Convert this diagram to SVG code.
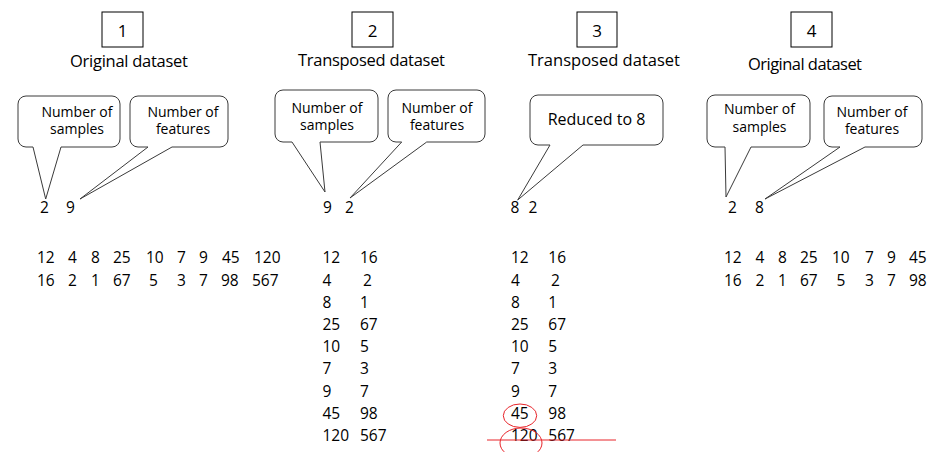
<svg xmlns="http://www.w3.org/2000/svg" width="932" height="452" viewBox="0 0 932 452">
<style>
.box{fill:#fff;stroke:#000;stroke-width:1}
.bub{fill:#fff;stroke:#3a3a3a;stroke-width:1}
text{font-family:"Open Sans","Liberation Sans",sans-serif;fill:#000}
.num{font-size:17px;text-anchor:middle}
.ttl{font-size:16.5px;text-anchor:middle}
.bt{font-size:14px;text-anchor:middle}
.d{font-size:15.5px}
.red{fill:none;stroke:#e8242a;stroke-width:1}
</style>
<rect width="932" height="452" fill="#fff"/>

<g id="panel1">
  <g id="box1"><rect class="box" x="102" y="12" width="41" height="35"/><text class="num" x="122.5" y="36.5">1</text></g>
  <text class="ttl" x="129" y="66.5" textLength="118">Original dataset</text>
  <g id="bubble1a"><path class="bub" d="M26,96 H112 A8,8 0 0 1 120,104 V139 A8,8 0 0 1 112,147 H61 L45.7,199 L33,147 H26 A8,8 0 0 1 18,139 V104 A8,8 0 0 1 26,96 Z"/>
    <text class="bt" x="77" y="116.5">Number of</text><text class="bt" x="77" y="134">samples</text></g>
  <g id="bubble1b"><path class="bub" d="M138,96 H220 A8,8 0 0 1 228,104 V139 A8,8 0 0 1 220,147 H172 L80,199 L148,147 H138 A8,8 0 0 1 130,139 V104 A8,8 0 0 1 138,96 Z"/>
    <text class="bt" x="183" y="116.5">Number of</text><text class="bt" x="183" y="134">features</text></g>
  <g id="shape1" class="d"><text x="40" y="213">2</text><text x="66" y="213">9</text></g>
  <g id="data1" class="d">
    <text x="37" y="263">12</text><text x="68" y="263">4</text><text x="91" y="263">8</text><text x="113" y="263">25</text><text x="146" y="263">10</text><text x="177" y="263">7</text><text x="199" y="263">9</text><text x="222" y="263">45</text><text x="254" y="263">120</text>
    <text x="37" y="285.5">16</text><text x="68" y="285.5">2</text><text x="91" y="285.5">1</text><text x="113" y="285.5">67</text><text x="149" y="285.5">5</text><text x="177" y="285.5">3</text><text x="199" y="285.5">7</text><text x="221" y="285.5">98</text><text x="252" y="285.5">567</text>
  </g>
</g>

<g id="panel2">
  <g id="box2"><rect class="box" x="352" y="12" width="41" height="35"/><text class="num" x="372.5" y="36.5">2</text></g>
  <text class="ttl" x="371.5" y="66" textLength="147">Transposed dataset</text>
  <g id="bubble2a"><path class="bub" d="M283,90 H370 A8,8 0 0 1 378,98 V134 A8,8 0 0 1 370,142 H320 L325,192 L292,142 H283 A8,8 0 0 1 275,134 V98 A8,8 0 0 1 283,90 Z"/>
    <text class="bt" x="327" y="112.5">Number of</text><text class="bt" x="327" y="130">samples</text></g>
  <g id="bubble2b"><path class="bub" d="M396,90 H477 A8,8 0 0 1 485,98 V134 A8,8 0 0 1 477,142 H426.7 L350,198 L401.7,142 H396 A8,8 0 0 1 388,134 V98 A8,8 0 0 1 396,90 Z"/>
    <text class="bt" x="437" y="112.5">Number of</text><text class="bt" x="437" y="130">features</text></g>
  <g id="shape2" class="d"><text x="323" y="213">9</text><text x="345" y="213">2</text></g>
  <g id="data2" class="d">
    <text x="322.5" y="263.3">12</text><text x="360" y="263.3">16</text>
    <text x="322.5" y="285.5">4</text><text x="363" y="285.5">2</text>
    <text x="322.5" y="307.7">8</text><text x="360" y="307.7">1</text>
    <text x="322.5" y="330">25</text><text x="360" y="330">67</text>
    <text x="322.5" y="352.2">10</text><text x="360" y="352.2">5</text>
    <text x="322.5" y="374.4">7</text><text x="360" y="374.4">3</text>
    <text x="322.5" y="396.6">9</text><text x="360" y="396.6">7</text>
    <text x="322.5" y="418.8">45</text><text x="360" y="418.8">98</text>
    <text x="322.5" y="441">120</text><text x="360" y="441">567</text>
  </g>
</g>

<g id="panel3">
  <g id="box3"><rect class="box" x="577" y="12" width="40" height="35"/><text class="num" x="597" y="36.5">3</text></g>
  <text class="ttl" x="604" y="66" textLength="152">Transposed dataset</text>
  <g id="bubble3"><path class="bub" d="M538,95 H655 A8,8 0 0 1 663,103 V137 A8,8 0 0 1 655,145 H583 L517.7,200 L550,145 H538 A8,8 0 0 1 530,137 V103 A8,8 0 0 1 538,95 Z"/>
    <text x="596.5" y="125" style="font-size:16px;text-anchor:middle">Reduced to 8</text></g>
  <g id="shape3" class="d"><text x="510.5" y="213">8</text><text x="528.5" y="213">2</text></g>
  <g id="data3" class="d">
    <text x="511" y="263.3">12</text><text x="548.3" y="263.3">16</text>
    <text x="511" y="285.5">4</text><text x="551" y="285.5">2</text>
    <text x="511" y="307.7">8</text><text x="548.3" y="307.7">1</text>
    <text x="511" y="330">25</text><text x="548.3" y="330">67</text>
    <text x="511" y="352.2">10</text><text x="548.3" y="352.2">5</text>
    <text x="511" y="374.4">7</text><text x="548.3" y="374.4">3</text>
    <text x="511" y="396.6">9</text><text x="548.3" y="396.6">7</text>
    <text x="511" y="418.8">45</text><text x="548.3" y="418.8">98</text>
    <text x="511" y="441">120</text><text x="548.3" y="441">567</text>
  </g>
  <g id="marks3">
    <ellipse class="red" cx="520" cy="415.7" rx="16.7" ry="11.7"/>
    <ellipse class="red" cx="521" cy="443" rx="21" ry="15"/>
    <line class="red" x1="487" y1="440" x2="616" y2="440"/>
  </g>
</g>

<g id="panel4">
  <g id="box4"><rect class="box" x="791" y="12" width="41" height="35"/><text class="num" x="811.5" y="36.5">4</text></g>
  <text class="ttl" x="805" y="70" textLength="114">Original dataset</text>
  <g id="bubble4a"><path class="bub" d="M715,95 H802 A8,8 0 0 1 810,103 V139 A8,8 0 0 1 802,147 H751 L726,197 L725,147 H715 A8,8 0 0 1 707,139 V103 A8,8 0 0 1 715,95 Z"/>
    <text class="bt" x="759.5" y="114">Number of</text><text class="bt" x="759.5" y="132">samples</text></g>
  <g id="bubble4b"><path class="bub" d="M832,96 H914 A8,8 0 0 1 922,104 V139 A8,8 0 0 1 914,147 H865 L765,199 L840,147 H832 A8,8 0 0 1 824,139 V104 A8,8 0 0 1 832,96 Z"/>
    <text class="bt" x="872" y="116.5">Number of</text><text class="bt" x="872" y="134">features</text></g>
  <g id="shape4" class="d"><text x="728" y="213">2</text><text x="755" y="213">8</text></g>
  <g id="data4" class="d">
    <text x="724" y="263">12</text><text x="755.5" y="263">4</text><text x="778" y="263">8</text><text x="800" y="263">25</text><text x="832" y="263">10</text><text x="865" y="263">7</text><text x="887" y="263">9</text><text x="909" y="263">45</text>
    <text x="724" y="285.5">16</text><text x="755.5" y="285.5">2</text><text x="778" y="285.5">1</text><text x="800" y="285.5">67</text><text x="836.5" y="285.5">5</text><text x="865" y="285.5">3</text><text x="887" y="285.5">7</text><text x="909" y="285.5">98</text>
  </g>
</g>
</svg>
